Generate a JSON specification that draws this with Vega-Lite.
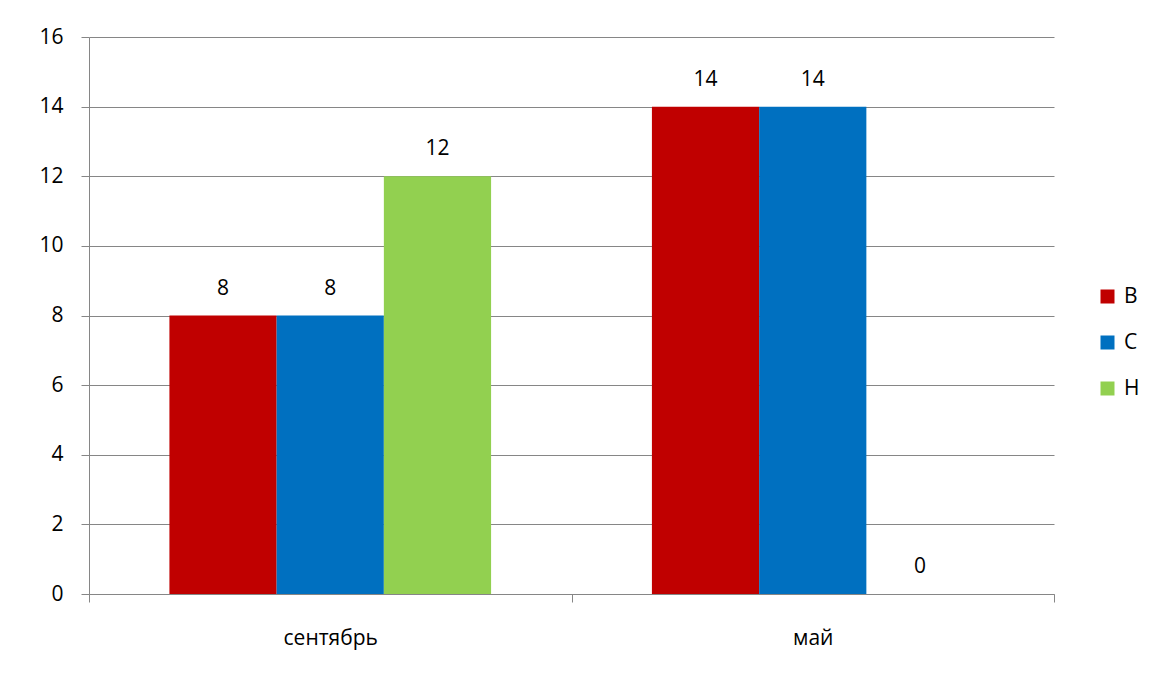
{
  "$schema": "https://vega.github.io/schema/vega-lite/v6.json",
  "width": 965,
  "height": 557,
  "autosize": {"type": "none"},
  "padding": {"left": 89, "top": 37, "right": 96, "bottom": 81},
  "background": "white",
  "config": {
    "view": {"stroke": null},
    "font": "Open Sans",
    "axis": {"labelFont": "Open Sans", "labelFontSize": 21, "labelColor": "#000000", "domainColor": "#868686", "tickColor": "#868686", "gridColor": "#868686"}
  },
  "data": {
    "values": [
      {"month": "сентябрь", "group": "В", "value": 8},
      {"month": "сентябрь", "group": "С", "value": 8},
      {"month": "сентябрь", "group": "Н", "value": 12},
      {"month": "май", "group": "В", "value": 14},
      {"month": "май", "group": "С", "value": 14},
      {"month": "май", "group": "Н", "value": 0}
    ]
  },
  "encoding": {
    "x": {
      "field": "month", "type": "nominal", "sort": ["сентябрь", "май"],
      "scale": {"paddingInner": 0, "paddingOuter": 0},
      "axis": {"title": null, "labelAngle": 0, "tickBand": "extent", "tickSize": 8, "labelPadding": 25, "grid": false}
    },
    "xOffset": {
      "field": "group", "type": "nominal", "sort": ["В", "С", "Н"],
      "scale": {"paddingInner": 0, "paddingOuter": 0.75}
    },
    "y": {
      "field": "value", "type": "quantitative",
      "scale": {"domain": [0, 16], "nice": false},
      "axis": {"title": null, "values": [0, 2, 4, 6, 8, 10, 12, 14, 16], "tickSize": 8, "labelPadding": 18, "grid": true, "domain": true}
    }
  },
  "layer": [
    {
      "mark": {"type": "bar"},
      "encoding": {
        "color": {
          "field": "group", "type": "nominal",
          "scale": {"domain": ["В", "С", "Н"], "range": ["#C00000", "#0070C0", "#92D050"]},
          "legend": {
            "title": null, "orient": "none", "legendX": 1008, "legendY": 249,
            "symbolType": "square", "symbolSize": 196, "symbolStrokeWidth": 0,
            "labelFontSize": 21, "labelFont": "Open Sans", "labelColor": "#000000",
            "rowPadding": 24, "labelOffset": 6
          }
        }
      }
    },
    {
      "mark": {"type": "text", "baseline": "alphabetic", "dy": -21, "fontSize": 21, "font": "Open Sans", "color": "#000000"},
      "encoding": {"text": {"field": "value", "type": "quantitative"}}
    }
  ]
}
